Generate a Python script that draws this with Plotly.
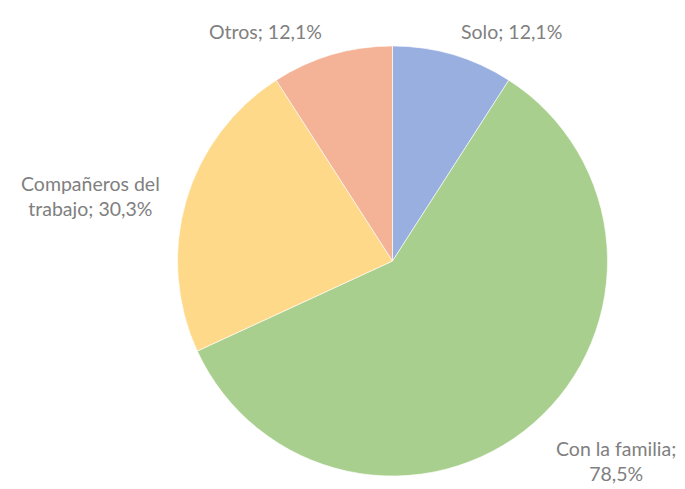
import plotly.graph_objects as go

# Share of respondents by who they are with (multiple answers allowed)
categorias = ["Solo", "Con la familia", "Compañeros del trabajo", "Otros"]
valores = [12.1, 78.5, 30.3, 12.1]
colores = ["#98AFE0", "#A8CF8D", "#FED98A", "#F4B396"]

W, H = 685, 489
cx, cy, r = 392.5, 261.0, 215.0

fig = go.Figure(go.Pie(
    labels=categorias,
    values=valores,
    sort=False,
    direction="clockwise",
    rotation=0,
    marker=dict(colors=colores, line=dict(color="rgba(255,255,255,0.6)", width=1)),
    textinfo="none",
    hoverinfo="label+value",
    domain=dict(x=[(cx - r) / W, (cx + r) / W], y=[1 - (cy + r) / H, 1 - (cy - r) / H]),
    showlegend=False,
))

def fmt(v):
    return f"{v:.1f}".replace(".", ",") + "%"

# label placement (paper pixels) and line breaks for each category
etiquetas = [
    (f"{categorias[0]}; {fmt(valores[0])}", 511, 32),
    (f"{categorias[1]};<br>{fmt(valores[1])}", 616, 461),
    (f"Compañeros del<br>trabajo; {fmt(valores[2])}", 90, 196),
    (f"{categorias[3]}; {fmt(valores[3])}", 265, 32),
]
for txt, x, y in etiquetas:
    fig.add_annotation(
        x=x / W, y=1 - y / H, xref="paper", yref="paper",
        text=txt, showarrow=False, xanchor="center", yanchor="middle",
        align="center",
        font=dict(family="Lato, Open Sans, sans-serif", size=19.5, color="#808080"),
    )

fig.update_layout(
    width=W, height=H,
    margin=dict(l=0, r=0, t=0, b=0),
    paper_bgcolor="white",
    plot_bgcolor="white",
)

fig.write_html("out.html")
